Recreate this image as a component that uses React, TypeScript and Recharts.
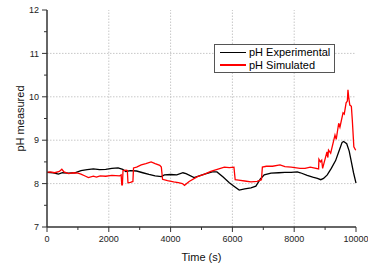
import { LineChart, Line, XAxis, YAxis, ReferenceLine } from 'recharts';

const FONT = '"Liberation Sans", Arial, sans-serif';

// pH Experimental (black)
const expTime = [
  0, 200, 370, 500, 700, 900, 1100, 1300, 1500, 1700, 1900, 2100, 2300, 2450, 2550, 2700,
  2900, 3100, 3300, 3500, 3700, 3800, 4000, 4200, 4400, 4500, 4760, 4900, 5100, 5350, 5500,
  5700, 5900, 6050, 6220, 6400, 6600, 6760, 6900, 7030, 7250, 7500, 7700, 7900, 8100, 8200,
  8420, 8600, 8750, 8860, 8950, 9070, 9200, 9340, 9450, 9550, 9600, 9700, 9780, 9850, 9920, 10000,
];
const expPH = [
  8.26, 8.25, 8.22, 8.25, 8.24, 8.25, 8.3, 8.32, 8.34, 8.32, 8.33, 8.35, 8.36, 8.33, 8.28, 8.3,
  8.29, 8.25, 8.21, 8.18, 8.16, 8.2, 8.21, 8.2, 8.25, 8.23, 8.14, 8.17, 8.22, 8.27, 8.27,
  8.15, 8.02, 7.94, 7.85, 7.88, 7.9, 7.94, 8.1, 8.2, 8.24, 8.25, 8.26, 8.26, 8.27, 8.25,
  8.19, 8.15, 8.12, 8.09, 8.12, 8.2, 8.35, 8.53, 8.75, 8.95, 8.97, 8.92, 8.75, 8.5, 8.25, 8.01,
];

// pH Simulated (red)
const simTime = [
  0, 100, 250, 400, 480, 550, 700, 850, 1000, 1100, 1250, 1340, 1500, 1600, 1720, 1900, 2100,
  2350, 2400, 2420, 2440, 2460, 2560, 2600, 2620, 2700, 2780, 2800, 2900, 3050, 3200, 3370,
  3500, 3650, 3700, 3740, 3900, 4100, 4250, 4380, 4450, 4600, 4870, 5100, 5300, 5510, 5740,
  5900, 6050, 6090, 6200, 6400, 6600, 6800, 6940, 6970, 7100, 7300, 7540, 7700, 7900, 8190,
  8350, 8520, 8790, 8800, 8850, 8890, 8920, 9060, 9090, 9110, 9180, 9320, 9360, 9440, 9480,
  9580, 9620, 9680, 9720, 9740, 9770, 9800, 9850, 9880, 9930, 9990,
];
const simPH = [
  8.26, 8.27, 8.25, 8.28, 8.33, 8.27, 8.23, 8.25, 8.24, 8.22, 8.17, 8.14, 8.17, 8.15, 8.18, 8.17, 8.19,
  8.18, 8.2, 7.97, 7.97, 8.3, 8.31, 8.3, 8.02, 8.03, 8.05, 8.36, 8.38, 8.43, 8.46, 8.5,
  8.46, 8.42, 8.38, 8.1, 8.07, 8.04, 8.02, 8.0, 7.96, 8.05, 8.16, 8.22, 8.28, 8.33, 8.38,
  8.37, 8.38, 8.09, 8.08, 8.06, 8.04, 8.05, 8.09, 8.38, 8.4, 8.4, 8.43, 8.39, 8.38, 8.35,
  8.35, 8.38, 8.34, 8.56, 8.5, 8.54, 8.35, 8.73, 8.6, 8.77, 8.7, 9.12, 9.02, 9.39, 9.3,
  9.63, 9.6, 9.86, 9.9, 10.16, 9.95, 9.81, 9.78, 9.47, 8.85, 8.77,
];

const xTicks = [0, 1000, 2000, 3000, 4000, 5000, 6000, 7000, 8000, 9000, 10000];
const yTicks = [7, 7.5, 8, 8.5, 9, 9.5, 10, 10.5, 11, 11.5, 12];
const xGrid = [2000, 4000, 6000, 8000];
const yGrid = [8, 9, 10, 11];

const legendItems = [
  { name: 'pH Experimental', color: '#000000' },
  { name: 'pH Simulated', color: '#ff0000' },
];

const expData = expTime.map((t, i) => ({ t, ph: expPH[i] }));
const simData = simTime.map((t, i) => ({ t, ph: simPH[i] }));

function YTick(props: any) {
  const { x, y, payload } = props;
  const major = Number.isInteger(payload.value);
  return (
    <g>
      <line x1={x - (major ? 5 : 3)} x2={x} y1={y} y2={y} stroke="#333" strokeWidth={1} />
      {major && (
        <text x={x - 8} y={y} dy={3.2} textAnchor="end" fontSize={9} fill="#222" fontFamily={FONT}>
          {payload.value}
        </text>
      )}
    </g>
  );
}

function XTick(props: any) {
  const { x, y, payload } = props;
  const major = payload.value % 2000 === 0;
  return (
    <g>
      <line x1={x} x2={x} y1={y} y2={y + (major ? 5 : 3)} stroke="#333" strokeWidth={1} />
      {major && (
        <text x={x} y={y} dy={15} textAnchor="middle" fontSize={9} fill="#222" fontFamily={FONT}>
          {payload.value}
        </text>
      )}
    </g>
  );
}

export default function App() {
  return (
    <div style={{ position: 'absolute', left: 0, top: 0, width: 368, height: 266, background: '#fff' }}>
      <LineChart width={368} height={266} margin={{ top: 10, right: 12, left: 0, bottom: 0 }}>
        {yGrid.map((v) => (
          <ReferenceLine key={'y' + v} y={v} stroke="#c8c8c8" strokeDasharray="1.5 1.5" />
        ))}
        {xGrid.map((v) => (
          <ReferenceLine key={'x' + v} x={v} stroke="#c8c8c8" strokeDasharray="1.5 1.5" />
        ))}
        <XAxis
          dataKey="t"
          type="number"
          domain={[0, 10000]}
          ticks={xTicks}
          height={39}
          tickSize={0}
          tickMargin={0}
          tick={<XTick />}
          tickLine={false}
          axisLine={{ stroke: '#333', strokeWidth: 1.5 }}
          interval={0}
          label={{ value: 'Time (s)', position: 'insideBottom', offset: 5, fontSize: 11, fill: '#111', fontFamily: FONT }}
        />
        <YAxis
          type="number"
          domain={[7, 12]}
          ticks={yTicks}
          width={47}
          tickSize={0}
          tickMargin={0}
          tick={<YTick />}
          tickLine={false}
          axisLine={{ stroke: '#333', strokeWidth: 1.5 }}
          interval={0}
          label={{ value: 'pH measured', angle: -90, position: 'center', dx: -3, fontSize: 11, fill: '#111', fontFamily: FONT }}
        />
        <Line
          data={expData}
          dataKey="ph"
          name="pH Experimental"
          type="linear"
          stroke="#000000"
          strokeWidth={1.3}
          dot={false}
          isAnimationActive={false}
        />
        <Line
          data={simData}
          dataKey="ph"
          name="pH Simulated"
          type="linear"
          stroke="#ff0000"
          strokeWidth={1.3}
          dot={false}
          isAnimationActive={false}
        />
      </LineChart>
      <div
        style={{
          position: 'absolute',
          left: 214,
          top: 44,
          border: '1px solid #555',
          background: '#fff',
          padding: '1px 4px 1px 5px',
          fontFamily: FONT,
          fontSize: 11,
          lineHeight: '12.5px',
          color: '#000',
        }}
      >
        {legendItems.map((it) => (
          <div key={it.name} style={{ display: 'flex', alignItems: 'center' }}>
            <span style={{ display: 'inline-block', width: 26, height: 1.5, background: it.color, marginRight: 3 }} />
            <span>{it.name}</span>
          </div>
        ))}
      </div>
    </div>
  );
}
